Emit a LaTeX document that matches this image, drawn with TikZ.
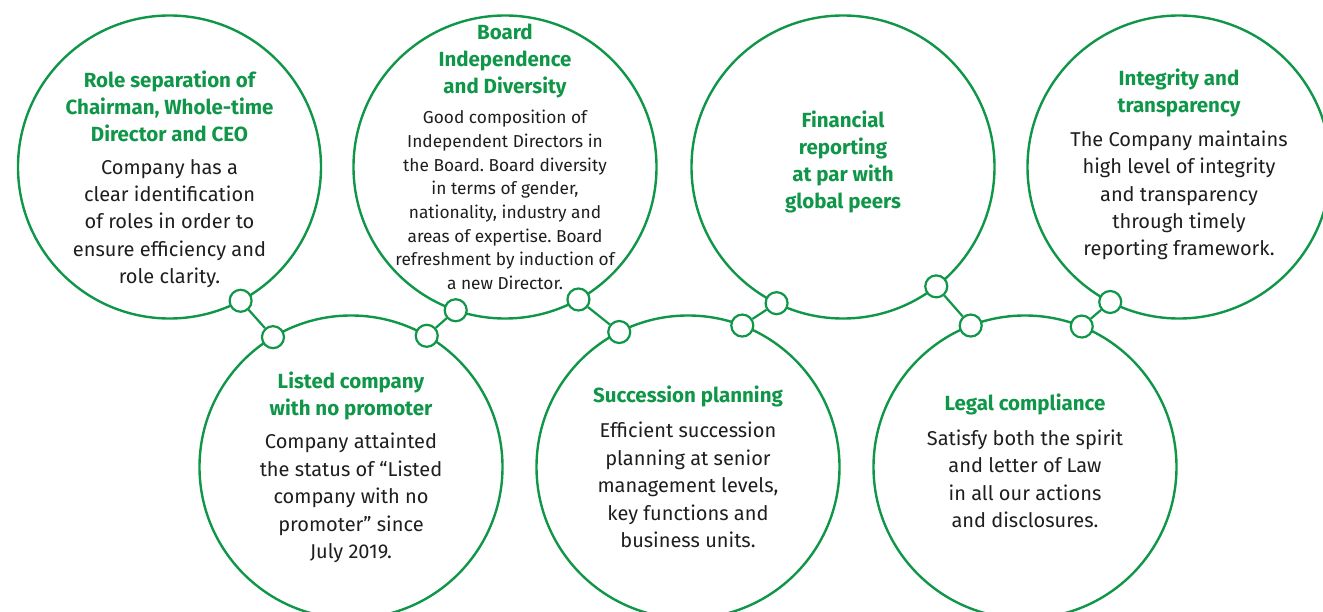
\documentclass[tikz,border=0pt]{standalone}
\usepackage{fontspec}
\setmainfont{Fira Sans}
\usepackage{xcolor}
\usepackage{tikz}

\definecolor{govgreen}{RGB}{16,150,72}
\definecolor{govtext}{RGB}{30,30,30}

\tikzset{
  ring/.style={circle,draw=govgreen,line width=2.4pt,minimum size=303pt,inner sep=0pt,outer sep=0pt},
  knot/.style={circle,draw=govgreen,line width=2.2pt,fill=white,minimum size=22pt,inner sep=0pt},
  link/.style={draw=govgreen,line width=2.2pt},
  heading/.style={text=govgreen,font=\bfseries\fontsize{20.5}{27}\selectfont,align=center},
  body/.style={text=govtext,font=\fontsize{20}{27.4}\selectfont,align=center},
  smallbody/.style={body,font=\fontsize{17.3}{23.7}\selectfont},
}

\begin{document}
\frenchspacing
\begin{tikzpicture}[x=1pt,y=-1pt]
    \useasboundingbox (0,0) rectangle (1323,612);

    \coordinate (R) at (169.5,167);
    \coordinate (B) at (505,167);
    \coordinate (F) at (843,167);
    \coordinate (I) at (1179,167);
    \coordinate (L) at (351,467);
    \coordinate (S) at (688,467);
    \coordinate (G) at (1025,467);

    % big rings
    \node[ring] (roles) at (R) {};
    \node[ring] (board) at (B) {};
    \node[ring] (finance) at (F) {};
    \node[ring] (integrity) at (I) {};
    \node[ring] (listed) at (L) {};
    \node[ring] (succession) at (S) {};
    \node[ring] (legal) at (G) {};

    % small knots on the rings
    \node[knot] (k1) at (roles.-62) {};
    \node[knot] (k2) at (listed.121) {};
    \node[knot] (k3) at (board.-109) {};
    \node[knot] (k4) at (listed.60.5) {};
    \node[knot] (k5) at (board.-61) {};
    \node[knot] (k6) at (succession.117.5) {};
    \node[knot] (k7) at (finance.-116.5) {};
    \node[knot] (k8) at (succession.69) {};
    \node[knot] (k9) at (finance.-52) {};
    \node[knot] (k10) at (legal.111.5) {};
    \node[knot] (k11) at (integrity.-117) {};
    \node[knot] (k12) at (legal.68.5) {};

    \draw[link] (k1) -- (k2);
    \draw[link] (k3) -- (k4);
    \draw[link] (k5) -- (k6);
    \draw[link] (k7) -- (k8);
    \draw[link] (k9) -- (k10);
    \draw[link] (k11) -- (k12);

    % texts
    \node[heading] (roleshead) at (169.5,106) {Role separation of\\Chairman, Whole-time\\Director and CEO};
    \node[body] (rolesbody) at (169.5,223.5) {Company has a\\clear identification\\of roles in order to\\ensure efficiency and\\role clarity.};

    \node[heading] (boardhead) at (505,61) {Board\\Independence\\and Diversity};
    \node[smallbody] (boardbody) at (505,200) {Good composition of\\Independent Directors in\\the Board. Board diversity\\in terms of gender,\\nationality, industry and\\areas of expertise. Board\\refreshment by induction of\\a new Director.};

    \node[heading] (financehead) at (843,161.5) {Financial\\reporting\\at par with\\global peers};

    \node[heading] (integrityhead) at (1179,92.5) {Integrity and\\transparency};
    \node[body] (integritybody) at (1179,195.5) {The Company maintains\\high level of integrity\\and transparency\\through timely\\reporting framework.};

    \node[heading] (listedhead) at (351,395.5) {Listed company\\with no promoter};
    \node[body] (listedbody) at (351,498) {Company attainted\\the status of “Listed\\company with no\\promoter” since\\July 2019.};

    \node[heading] (successionhead) at (688,396) {Succession planning};
    \node[body] (successionbody) at (688,485) {Efficient succession\\planning at senior\\management levels,\\key functions and\\business units.};

    \node[heading] (legalhead) at (1025,404) {Legal compliance};
    \node[body] (legalbody) at (1025,479) {Satisfy both the spirit\\and letter of Law\\in all our actions\\and disclosures.};
\end{tikzpicture}
\end{document}
